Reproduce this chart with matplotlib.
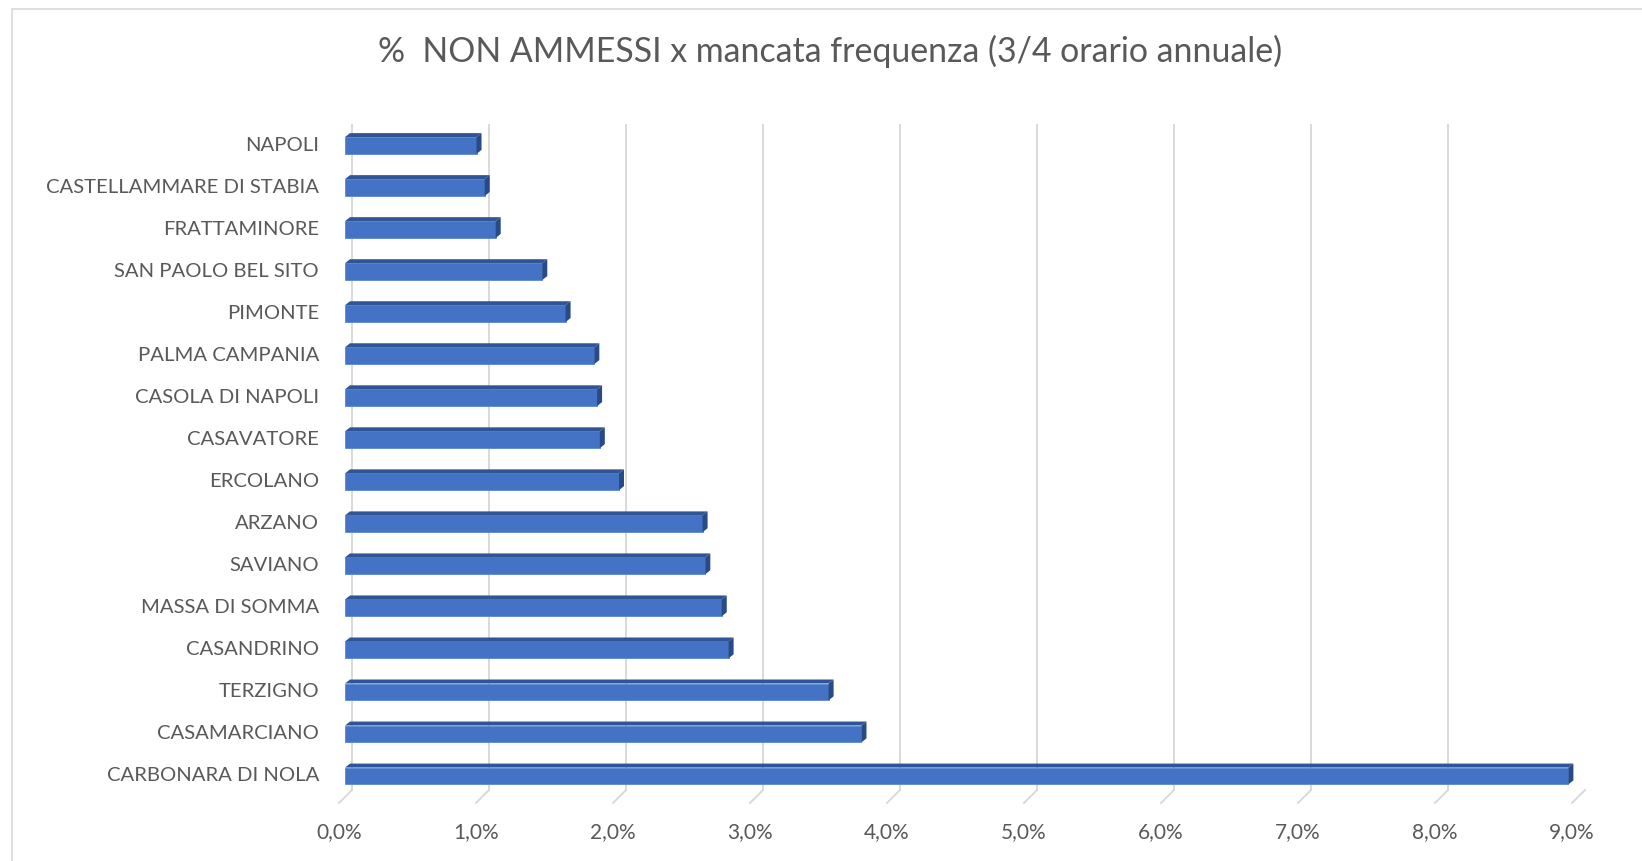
import numpy as np
import matplotlib.pyplot as plt
import matplotlib.transforms as mtransforms
from matplotlib.patches import Polygon, Rectangle
from matplotlib.lines import Line2D

# dati (percentuali)
comuni = ['CARBONARA DI NOLA', 'CASAMARCIANO', 'TERZIGNO', 'CASANDRINO', 'MASSA DI SOMMA',
          'SAVIANO', 'ARZANO', 'ERCOLANO', 'CASAVATORE', 'CASOLA DI NAPOLI', 'PALMA CAMPANIA',
          'PIMONTE', 'SAN PAOLO BEL SITO', 'FRATTAMINORE', 'CASTELLAMMARE DI STABIA', 'NAPOLI']
valori = [8.93, 3.77, 3.53, 2.80, 2.75, 2.63, 2.61, 2.00, 1.86, 1.84, 1.82, 1.61, 1.44, 1.10, 1.02, 0.96]
tick_x = list(range(0, 10))
tick_lab = ['{:.1f}%'.format(t).replace('.', ',') for t in tick_x]
titolo = '%  NON AMMESSI x mancata frequenza (3/4 orario annuale)'

plt.rcParams['font.family'] = ['Lato', 'DejaVu Sans']
grigio = '#595959'

fig = plt.figure(figsize=(16.42, 8.61), dpi=100)
ax = fig.add_axes([345 / 1642, 1 - 797 / 861, 1233 / 1642, 672.5 / 861])
ax.set_xlim(0, 9)
ax.set_ylim(-0.5, 15.5)
ax.axis('off')

# cornice del grafico
fig.patches.append(Rectangle((12 / 1642, -0.1), 1.2, 1 - 9 / 861 + 0.1, transform=fig.transFigure,
                             fill=False, edgecolor='#d9d9d9', lw=1.2))

def off(dx, dy):
    return ax.transData + mtransforms.Affine2D().translate(dx, dy)

# griglia sul fondo e sul pavimento
for t in tick_x:
    ax.add_line(Line2D([t, t], [-0.5, 15.5], transform=off(7, 7), color='#d9d9d9', lw=1.4, zorder=0))
    p0 = off(7, 7).transform((t, -0.5))
    p1 = off(-6, -6).transform((t, -0.5))
    fig.lines.append(Line2D([p0[0], p1[0]], [p0[1], p1[1]], transform=None, color='#d9d9d9', lw=1.4))
    fig.text(p1[0] / 1642, (p1[1] - 29) / 861, tick_lab[t], ha='center', va='center',
             fontsize=15, color=grigio)

# barre con effetto 3D
h = 0.4
y = np.arange(len(comuni))
ax.barh(y, valori, height=h, color='#4472C4', edgecolor='#5b86d0', lw=0.6, zorder=3)
dx, dy = 5, 4
for yi, v in zip(y, valori):
    a = ax.transData.transform((0, yi + h / 2))
    b = ax.transData.transform((v, yi - h / 2))
    top = [(a[0], a[1]), (b[0], a[1]), (b[0] + dx, a[1] + dy), (a[0] + dx, a[1] + dy)]
    side = [(b[0], a[1]), (b[0], b[1]), (b[0] + dx, b[1] + dy), (b[0] + dx, a[1] + dy)]
    fig.patches.append(Polygon(top, closed=True, transform=None, facecolor='#2F5597', edgecolor='none', zorder=4))
    fig.patches.append(Polygon(side, closed=True, transform=None, facecolor='#2a4a85', edgecolor='none', zorder=4))

# etichette delle categorie
for yi, nome in zip(y, comuni):
    p = ax.transData.transform((0, yi))
    fig.text((p[0] - 26) / 1642, p[1] / 861, nome, ha='right', va='center', fontsize=14.6, color=grigio)

fig.text(830 / 1642, 1 - 51 / 861, titolo, ha='center', va='center', fontsize=24.4, color=grigio)

fig.savefig('out.png', dpi=100)
